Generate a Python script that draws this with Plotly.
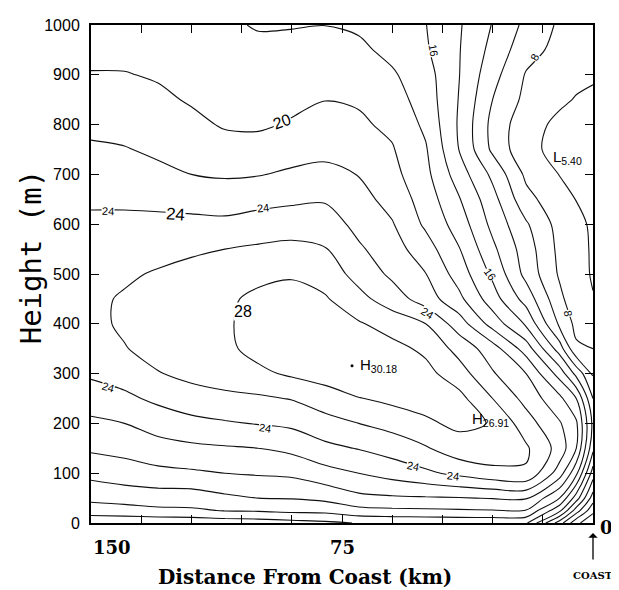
import plotly.graph_objects as go

# ---------------- data ----------------
dist_km = [150, 140, 130, 120, 110, 100, 90, 80, 70, 60, 50, 40, 30, 20, 10, 5, 0]
height_m = [0, 25, 50, 100, 150, 200, 250, 300, 350, 400, 450, 500, 550,
            600, 650, 700, 750, 800, 850, 900, 950, 1000]

# one row per height, values ordered like dist_km (150 km ... coast)
row_0000 = [12.5, 12.5, 12.5, 12.6, 12.8, 13.0, 13.3, 13.6, 14.1, 14.3, 14.4, 14.5, 14.5, 14.3, 7.0, 2.5, 0.5]
row_0025 = [15.0, 15.2, 15.6, 15.7, 16.1, 16.2, 16.5, 16.6, 17.4, 17.6, 17.7, 17.8, 17.9, 17.9, 12.5, 7.0, 2.5]
row_0050 = [16.5, 16.8, 17.0, 17.0, 17.6, 18.0, 18.1, 18.5, 19.5, 19.7, 19.8, 19.9, 20.1, 20.2, 16.0, 11.0, 5.0]
row_0100 = [18.6, 19.1, 19.5, 19.7, 20.0, 20.2, 20.4, 21.3, 22.0, 22.8, 23.6, 24.5, 25.4, 25.8, 21.0, 16.5, 9.0]
row_0150 = [20.3, 20.6, 21.2, 21.6, 21.8, 22.0, 22.5, 23.5, 24.1, 24.85, 25.8, 27.2, 27.3, 26.3, 23.25, 20.0, 12.5]
row_0200 = [21.6, 22.0, 22.9, 23.4, 23.8, 24.1, 24.4, 25.3, 26.0, 26.7, 27.7, 28.4, 27.9, 24.9, 22.2, 20.35, 13.5]
row_0250 = [23.0, 23.6, 24.4, 25.2, 25.5, 25.7, 26.1, 27.0, 27.9, 28.5, 28.7, 28.6, 26.0, 23.35, 20.5, 18.0, 12.0]
row_0300 = [24.3, 24.8, 25.9, 26.5, 27.0, 27.6, 28.3, 28.9, 30.0, 29.4, 28.6, 26.9, 24.2, 22.0, 17.2, 13.4, 9.8]
row_0350 = [25.0, 25.9, 26.7, 27.2, 27.6, 28.6, 29.0, 29.7, 29.6, 28.6, 27.6, 25.3, 22.9, 19.1, 13.0, 8.3, 8.0]
row_0400 = [25.5, 26.3, 27.1, 27.6, 27.7, 28.8, 29.4, 29.4, 28.2, 27.15, 26.0, 23.0, 19.2, 15.7, 9.6, 7.5, 7.2]
row_0450 = [25.6, 26.2, 26.9, 27.4, 27.6, 28.5, 29.0, 28.2, 26.6, 25.0, 23.05, 20.5, 16.9, 13.2, 8.5, 6.7, 6.05]
row_0500 = [25.5, 25.7, 26.2, 26.6, 26.9, 27.4, 27.7, 27.1, 25.3, 23.6, 22.05, 19.1, 15.6, 11.4, 7.75, 6.4, 5.9]
row_0550 = [25.0, 25.1, 25.3, 25.7, 26.0, 26.3, 26.6, 26.1, 24.3, 22.85, 20.9, 18.1, 14.45, 11.0, 7.5, 6.3, 5.9]
row_0600 = [24.4, 24.4, 24.5, 24.5, 24.5, 24.8, 24.9, 25.0, 23.4, 22.15, 19.65, 17.1, 13.45, 10.25, 7.25, 6.25, 5.85]
row_0650 = [23.7, 23.7, 23.5, 23.3, 23.0, 23.4, 23.7, 23.8, 22.7, 21.3, 19.1, 16.15, 12.7, 8.65, 6.7, 5.97, 5.75]
row_0700 = [23.0, 22.8, 22.4, 22.0, 21.8, 21.9, 22.3, 22.4, 21.95, 20.6, 18.55, 15.0, 11.55, 7.6, 5.95, 5.7, 5.7]
row_0750 = [22.3, 22.1, 21.7, 21.3, 20.8, 20.8, 21.2, 21.6, 21.2, 20.15, 18.2, 13.95, 9.6, 6.5, 5.45, 5.55, 5.75]
row_0800 = [21.5, 21.4, 21.0, 20.5, 19.8, 19.7, 20.2, 20.9, 20.3, 19.6, 17.6, 13.75, 9.4, 6.7, 5.6, 5.6, 5.8]
row_0850 = [20.8, 20.7, 20.4, 19.8, 19.3, 19.1, 19.5, 19.95, 19.8, 18.9, 17.1, 13.9, 10.0, 7.47, 6.3, 5.9, 5.85]
row_0900 = [20.1, 20.1, 19.8, 19.3, 18.9, 18.7, 19.0, 19.4, 18.9, 18.25, 16.8, 14.05, 10.7, 7.85, 6.9, 6.4, 6.1]
row_0950 = [19.5, 19.4, 19.3, 18.8, 18.5, 18.3, 18.5, 18.7, 18.4, 17.46, 16.25, 14.1, 11.4, 8.76, 7.4, 7.0, 6.7]
row_1000 = [19.0, 18.8, 18.7, 18.4, 18.2, 17.9, 17.9, 17.98, 17.7, 16.8, 16.05, 14.2, 11.9, 9.5, 7.7, 7.3, 7.0]

field = [row_0000, row_0025, row_0050, row_0100, row_0150, row_0200, row_0250,
         row_0300, row_0350, row_0400, row_0450, row_0500, row_0550, row_0600,
         row_0650, row_0700, row_0750, row_0800, row_0850, row_0900, row_0950,
         row_1000]

level_start, level_end, level_step = 2, 30, 2

# in-line contour labels
label_text = ['20', '24', '24', '24', '28', '16', '8', '16', '8', '24', '24', '24', '24', '24']
label_km = [92.9, 124.9, 145.0, 98.6, 104.6, 47.8, 17.3, 30.8, 7.5, 49.6, 145.0, 98.0, 53.8, 41.8]
label_m = [806, 619, 626, 632, 425, 949, 935, 500, 421, 421, 273, 190, 115, 95]
label_angle = [-20, 4, 3, -6, 0, 80, -62, 55, 82, 32, 16, 9, 12, 6]
label_size = [16, 17, 11, 11, 16, 11, 11, 11, 11, 11, 11, 11, 11, 11]

# extrema markers
ext_letter = ['H', 'H', 'L']
ext_value = ['30.18', '26.91', '5.40']
ext_km = [70.2, 36.8, 12.55]
ext_m = [316, 207, 733]
dot_km = [72.0]
dot_m = [316]

x_tick_vals = [150, 135, 120, 105, 90, 75, 60, 45, 30, 15, 0]
y_tick_vals = [0, 100, 200, 300, 400, 500, 600, 700, 800, 900, 1000]

# ---------------- figure ----------------
fig = go.Figure()
fig.add_trace(go.Contour(
    x=dist_km, y=height_m, z=field,
    contours=dict(start=level_start, end=level_end, size=level_step,
                  coloring='lines', showlabels=False),
    colorscale=[[0, '#111111'], [1, '#111111']],
    line=dict(width=1.1, smoothing=0.9),
    showscale=False, hoverinfo='skip'))

fig.add_trace(go.Scatter(x=dot_km, y=dot_m, mode='markers',
                         marker=dict(color='black', size=3), hoverinfo='skip',
                         showlegend=False))

sans = 'Liberation Sans, Arial, sans-serif'
serif = 'DejaVu Serif, Liberation Serif, serif'

ann = []
for t, xk, hm, a, s in zip(label_text, label_km, label_m, label_angle, label_size):
    ann.append(dict(x=xk, y=hm, xref='x', yref='y', text=t, showarrow=False,
                    textangle=a, bgcolor='white', borderpad=0,
                    font=dict(family=sans, size=s, color='black')))
for L, v, xk, hm in zip(ext_letter, ext_value, ext_km, ext_m):
    ann.append(dict(x=xk, y=hm, xref='x', yref='y', xanchor='left',
                    text=L + '<sub>' + v + '</sub>', showarrow=False,
                    font=dict(family=sans, size=15, color='black')))

ann += [
    dict(x=150, y=-0.049, xref='x', yref='paper', xanchor='left', yanchor='middle',
         text='<b>150</b>', showarrow=False, font=dict(family=serif, size=18, color='black')),
    dict(x=75, y=-0.049, xref='x', yref='paper', xanchor='center', yanchor='middle',
         text='<b>75</b>', showarrow=False, font=dict(family=serif, size=18, color='black')),
    dict(x=1.026, y=-0.01, xref='paper', yref='paper', xanchor='center', yanchor='middle',
         text='<b>0</b>', showarrow=False, font=dict(family=serif, size=18, color='black')),
    dict(x=0, y=-0.105, xref='x', yref='paper', xanchor='center', yanchor='middle',
         text='<b>COAST</b>', showarrow=False, font=dict(family=serif, size=10, color='black')),
    dict(x=0, y=-0.02, xref='x', yref='paper', text='', showarrow=True,
         ax=0, ay=28, arrowhead=1, arrowsize=1.2, arrowwidth=1.3, arrowcolor='black'),
    dict(x=0.426, y=-0.109, xref='paper', yref='paper', xanchor='center', yanchor='middle',
         text='<b>Distance From Coast (km)</b>', showarrow=False,
         font=dict(family=serif, size=20, color='black')),
    dict(x=-0.12, y=0.535, xref='paper', yref='paper', xanchor='center', yanchor='middle',
         text='Height (m)', textangle=-90, showarrow=False,
         font=dict(family='DejaVu Sans Mono, Liberation Mono, monospace', size=29,
                   color='black')),
]

# the page body has an 8 px margin, so the figure is sized to fit the window
fig.update_layout(
    width=611, height=582,
    margin=dict(l=83, r=26, t=9, b=67),
    paper_bgcolor='white', plot_bgcolor='white',
    showlegend=False,
    annotations=ann,
    xaxis=dict(range=[150, 0], tickmode='array', tickvals=x_tick_vals,
               showticklabels=False, ticks='inside', ticklen=8, tickwidth=1.3,
               tickcolor='black', showline=True, linewidth=2, linecolor='black',
               mirror='ticks', showgrid=False, zeroline=False),
    yaxis=dict(range=[0, 1000], tickmode='array', tickvals=y_tick_vals,
               ticks='inside', ticklen=8, tickwidth=1.3, tickcolor='black',
               showline=True, linewidth=2, linecolor='black', mirror='ticks',
               showgrid=False, zeroline=False, ticklabelstandoff=6,
               tickfont=dict(family=sans, size=16, color='black')),
)

fig.write_html('out.html')
